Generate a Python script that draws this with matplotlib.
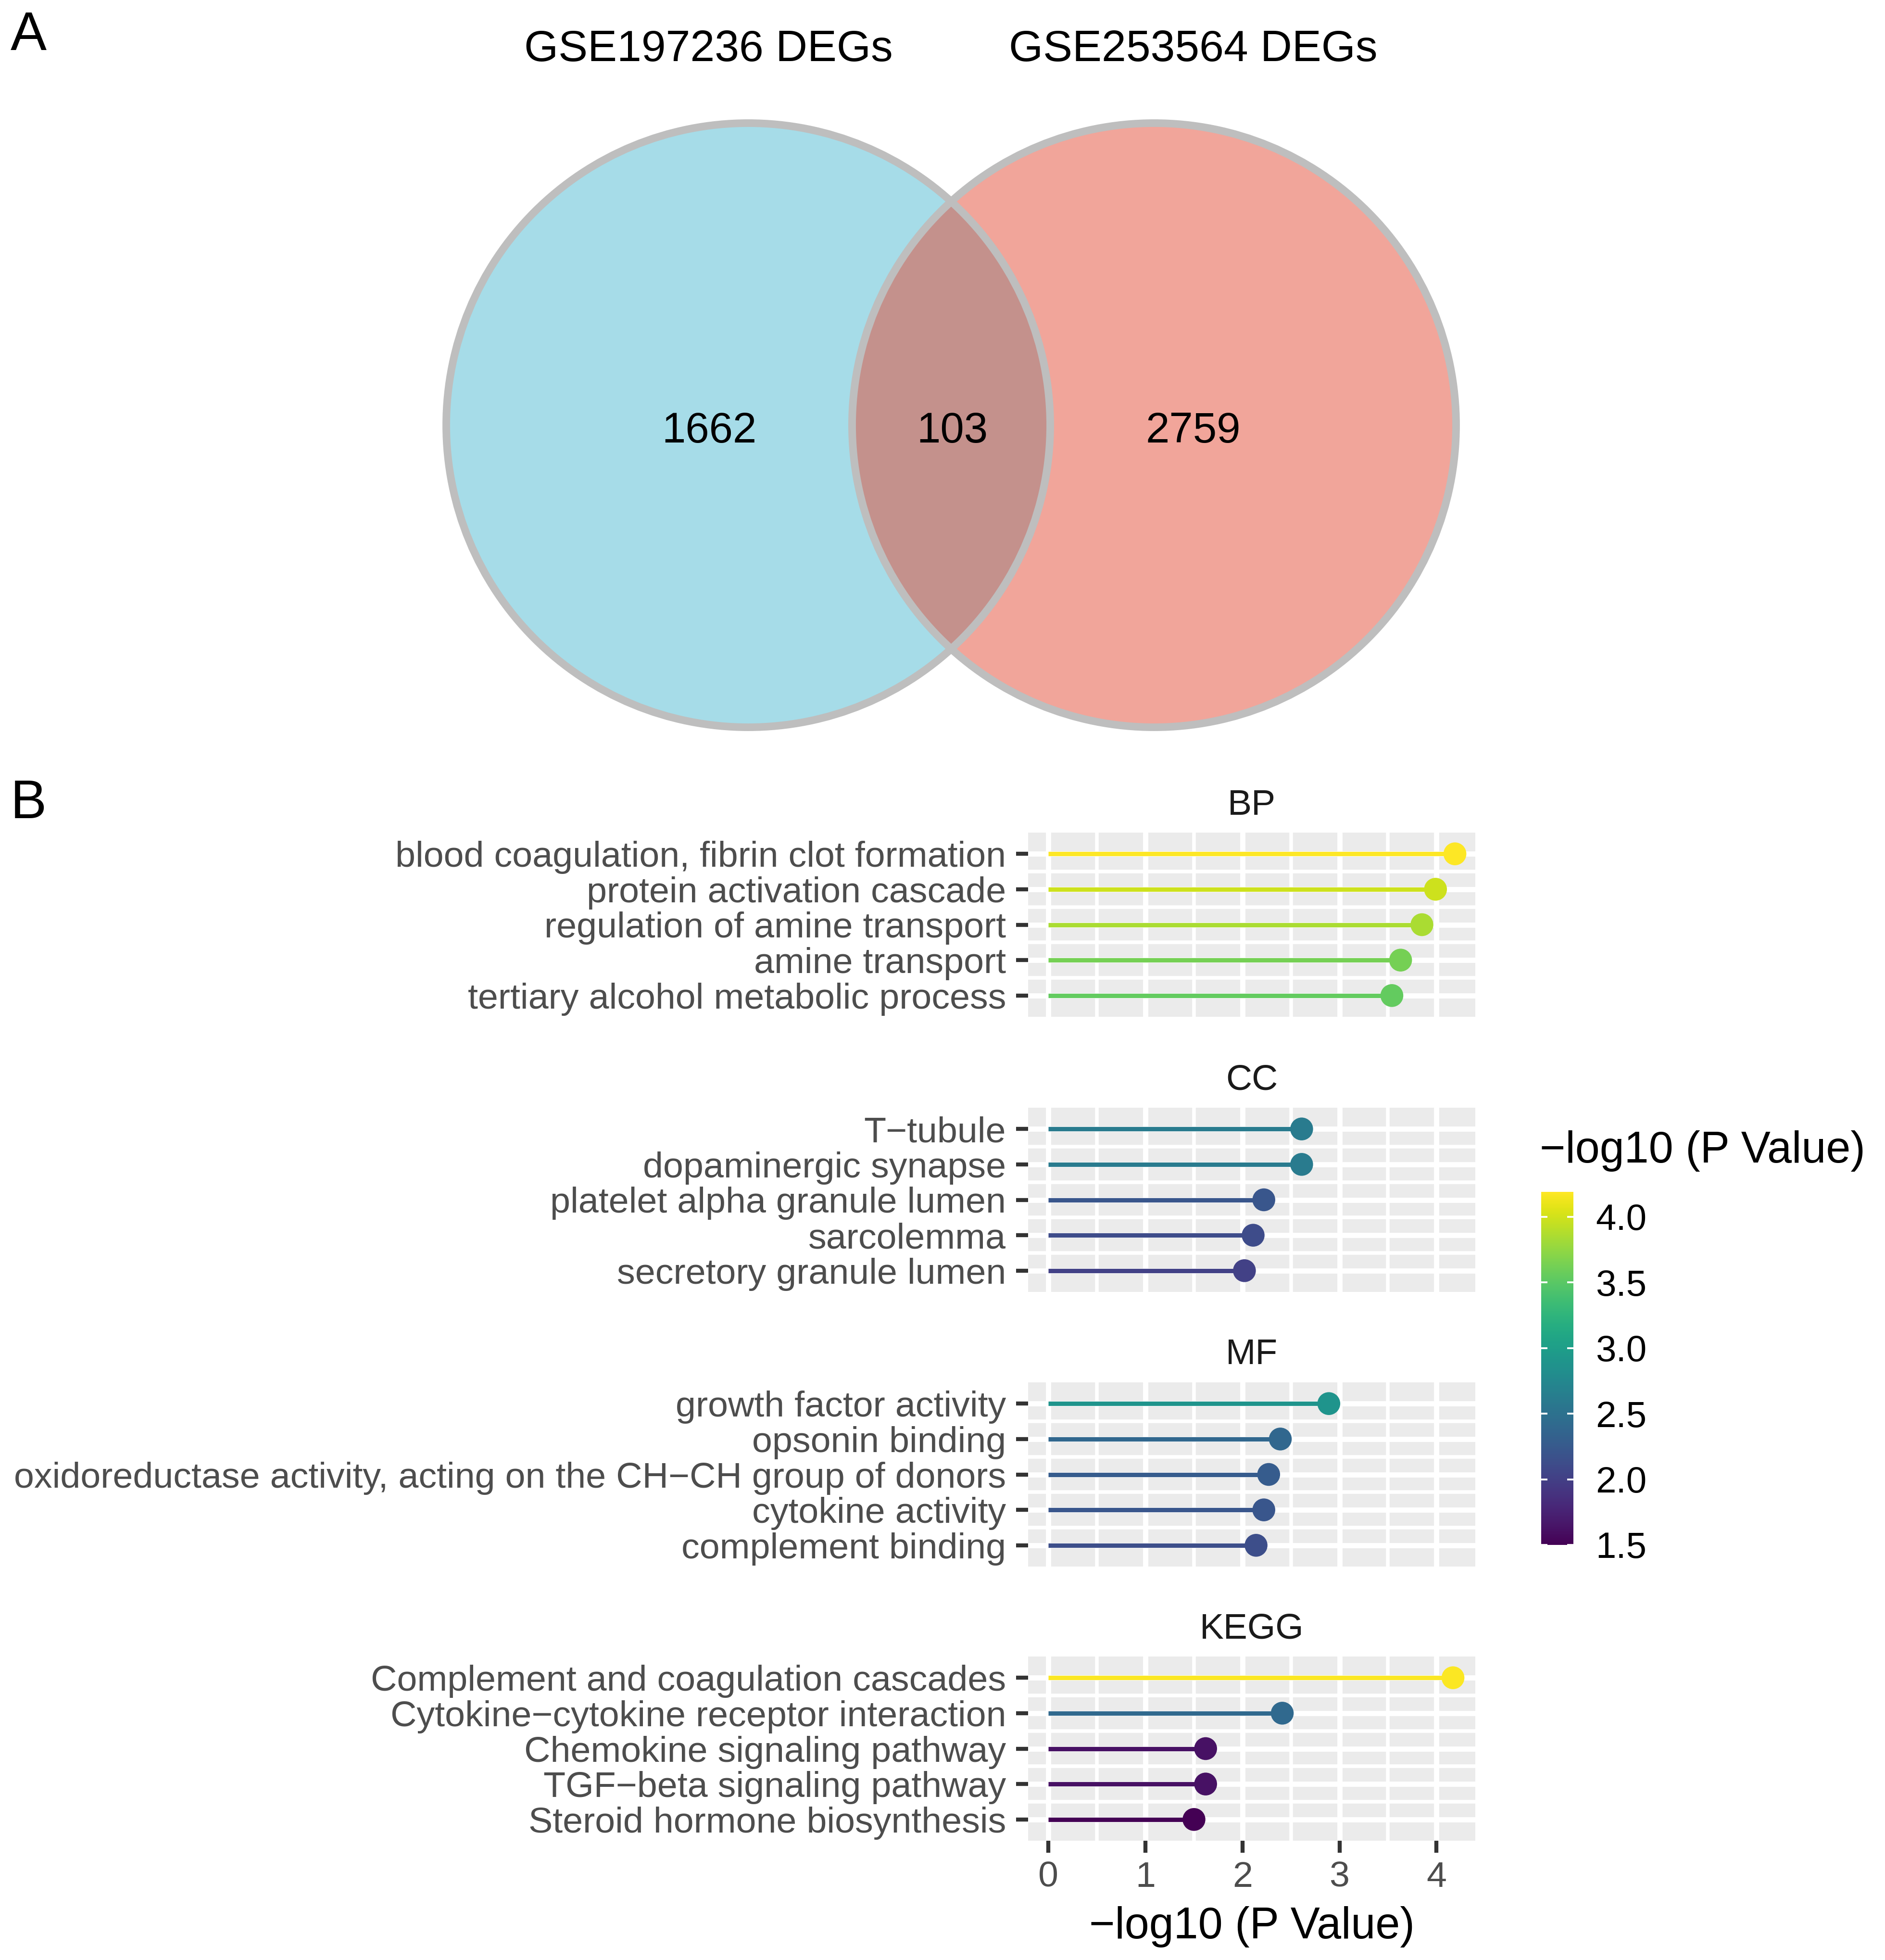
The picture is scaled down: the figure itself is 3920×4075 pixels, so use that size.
import numpy as np
import matplotlib
matplotlib.use('Agg')
import matplotlib.pyplot as plt
from matplotlib.patches import Circle
from matplotlib.colors import Normalize
from matplotlib.ticker import MultipleLocator

plt.rcParams['font.family'] = ['Liberation Sans', 'DejaVu Sans']

# Venn counts
set_names = ['GSE197236 DEGs', 'GSE253564 DEGs']
venn_counts = [1662, 103, 2759]  # left only, both, right only

# Enrichment results (-log10 P)
bp_terms = ['blood coagulation, fibrin clot formation', 'protein activation cascade',
            'regulation of amine transport', 'amine transport',
            'tertiary alcohol metabolic process']
bp_vals = [4.19, 3.99, 3.85, 3.63, 3.54]

cc_terms = ['T\u2212tubule', 'dopaminergic synapse', 'platelet alpha granule lumen',
            'sarcolemma', 'secretory granule lumen']
cc_vals = [2.61, 2.61, 2.22, 2.11, 2.02]

mf_terms = ['growth factor activity', 'opsonin binding',
            'oxidoreductase activity, acting on the CH\u2212CH group of donors',
            'cytokine activity', 'complement binding']
mf_vals = [2.89, 2.39, 2.27, 2.22, 2.14]

kegg_terms = ['Complement and coagulation cascades', 'Cytokine\u2212cytokine receptor interaction',
              'Chemokine signaling pathway', 'TGF\u2212beta signaling pathway',
              'Steroid hormone biosynthesis']
kegg_vals = [4.17, 2.41, 1.62, 1.62, 1.50]

panels = [('BP', bp_terms, bp_vals), ('CC', cc_terms, cc_vals),
          ('MF', mf_terms, mf_vals), ('KEGG', kegg_terms, kegg_vals)]

W, H = 3920, 4075
fig = plt.figure(figsize=(W / 300, H / 300), dpi=300)

# ---- Panel A: Venn ----
top_h = 1560
axv = fig.add_axes([0, 1 - top_h / H, 1, top_h / H])
axv.set_xlim(0, W)
axv.set_ylim(top_h, 0)
axv.axis('off')

r = 628
cl = (1556, 884)
cr = (2400, 884)
left = Circle(cl, r, fc='#A6DCE8', ec='none', zorder=1)
right = Circle(cr, r, fc='#F1A59A', ec='none', zorder=1)
axv.add_patch(left)
axv.add_patch(right)
ov = Circle(cr, r, fc='#C4918C', ec='none', zorder=2)
axv.add_patch(ov)
ov.set_clip_path(left)
for c in (cl, cr):
    axv.add_patch(Circle(c, r, fc='none', ec='#BEBEBE', lw=3.8, zorder=3))

axv.text(1473, 104, set_names[0], ha='center', va='center', fontsize=21.9)
axv.text(2481, 104, set_names[1], ha='center', va='center', fontsize=21.9)
axv.text(1475, 897, str(venn_counts[0]), ha='center', va='center', fontsize=21.3)
axv.text(1980, 897, str(venn_counts[1]), ha='center', va='center', fontsize=21.3)
axv.text(2481, 897, str(venn_counts[2]), ha='center', va='center', fontsize=21.3)

fig.text(22 / W, 1 - 75 / H, 'A', fontsize=27, va='center', ha='left')
fig.text(22 / W, 1 - 1672 / H, 'B', fontsize=27, va='center', ha='left')

# ---- Panel B: lollipops ----
cmap = plt.get_cmap('viridis')
norm = Normalize(vmin=1.50, vmax=4.19)

px_left, px_right = 2138, 3068
tops = [1731, 2303, 2874, 3444]
ph = 383

for i, (name, terms, vals) in enumerate(panels):
    ax = fig.add_axes([px_left / W, 1 - (tops[i] + ph) / H,
                       (px_right - px_left) / W, ph / H])
    y = np.arange(len(terms))
    vals = np.array(vals)
    cols = cmap(norm(vals))
    ax.set_facecolor('#EBEBEB')
    ax.set_axisbelow(True)
    ax.hlines(y, 0, vals, colors=cols, lw=2.2, zorder=2)
    ax.scatter(vals, y, c=vals, cmap=cmap, norm=norm, s=130, zorder=3, linewidths=0)
    ax.set_xlim(-0.21, 4.40)
    ax.set_ylim(len(terms) - 0.4, -0.6)
    ax.set_yticks(y)
    ax.set_yticklabels(terms)
    ax.xaxis.set_major_locator(MultipleLocator(1))
    ax.xaxis.set_minor_locator(MultipleLocator(0.5))
    ax.set_yticks(np.arange(len(terms) - 1) + 0.5, minor=True)
    ax.grid(which='major', color='white', lw=2.6)
    ax.grid(which='minor', color='white', lw=1.8)
    for s in ax.spines.values():
        s.set_visible(False)
    ax.tick_params(axis='y', which='major', length=6, width=2, color='#333333',
                   labelcolor='#4D4D4D', labelsize=18.1, pad=5)
    ax.tick_params(axis='both', which='minor', length=0)
    ax.set_title(name, fontsize=18, color='#1A1A1A', pad=9)
    if i < len(panels) - 1:
        ax.tick_params(axis='x', which='major', length=0, labelbottom=False)
    else:
        ax.tick_params(axis='x', which='major', length=6, width=2, color='#333333',
                       labelcolor='#4D4D4D', labelsize=18.1, pad=4)
        ax.set_xlabel('\u2212log10 (P Value)', fontsize=22, labelpad=6)

# colorbar
cax = fig.add_axes([3205 / W, 1 - 3212 / H, 67 / W, 734 / H])
sm = plt.cm.ScalarMappable(norm=norm, cmap=cmap)
cb = fig.colorbar(sm, cax=cax, ticks=[1.5, 2.0, 2.5, 3.0, 3.5, 4.0])
cb.outline.set_visible(False)
cb.ax.set_yticklabels(['1.5', '2.0', '2.5', '3.0', '3.5', '4.0'])
cb.ax.yaxis.set_ticks_position('both')
cb.ax.tick_params(direction='in', color='white', length=3.2, width=0.9,
                  labelsize=18.3, pad=11, labelleft=False, labelright=True)
fig.text(3202 / W, 1 - 2393 / H, '\u2212log10 (P Value)', fontsize=22,
         ha='left', va='center')

fig.savefig('out.png', dpi=300)
